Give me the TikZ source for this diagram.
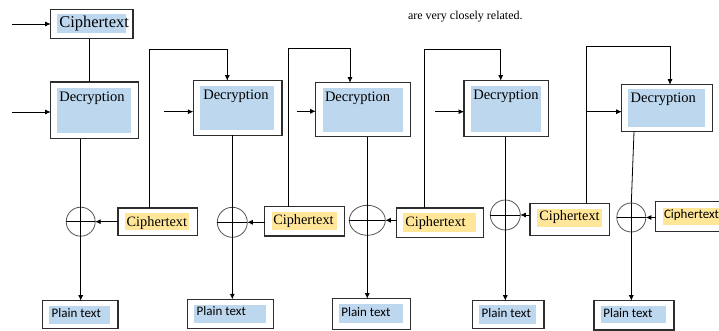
\documentclass[tikz,border=0pt]{standalone}
\usepackage{fontspec}
\setmainfont{Liberation Serif}
\newfontfamily\calib{Carlito}
\usetikzlibrary{arrows.meta,shapes.geometric}
\definecolor{boxblue}{RGB}{189,215,238}
\definecolor{boxyellow}{RGB}{255,230,153}
\definecolor{boxedge}{RGB}{45,45,45}
\definecolor{ringgray}{RGB}{85,85,85}
\tikzset{
  obox/.style={draw=boxedge, line width=1.2pt, fill=white, anchor=north west, inner sep=0pt, outer sep=0pt},
  bfill/.style={fill=boxblue, draw=none, anchor=north west, inner sep=0pt, outer sep=0pt},
  yfill/.style={fill=boxyellow, draw=none, anchor=north west, inner sep=0pt, outer sep=0pt},
  lbl/.style={anchor=base west, inner sep=0pt, outer sep=0pt},
  serifA/.style={font=\fontsize{14.5pt}{16pt}\selectfont},
  serifC/.style={font=\fontsize{14.3pt}{16pt}\selectfont},
  sansP/.style={font=\calib\fontsize{13pt}{15pt}\selectfont},
  ring/.style={circle, draw=ringgray, line width=0.8pt, inner sep=0pt, outer sep=0pt, minimum size=#1},
  conn/.style={draw=black, line width=0.8pt},
  arr/.style={draw=black, line width=0.8pt, -{Latex[length=5.5pt,width=5pt]}},
}
\begin{document}
\begin{tikzpicture}[x=1pt,y=-1pt]
\clip (0,0) rectangle (719,331);
\fill[white] (0,0) rectangle (719,331);

% top note
\node[lbl, font=\fontsize{12pt}{14pt}\selectfont] (note) at (408,19.3) {are very closely related.};

% top ciphertext
\node[obox, minimum width=82.3pt, minimum height=29.4pt] (c0) at (50.7,9.3) {};
\node[bfill, minimum width=69pt, minimum height=19pt] (c0f) at (57,14) {};
\node[lbl, font=\fontsize{16.5pt}{18pt}\selectfont] (c0t) at (59.3,27.3) {Ciphertext};

% decryption boxes
\node[obox, minimum width=88pt, minimum height=56.7pt] (d1) at (50.7,82) {};
\node[bfill, minimum width=74pt, minimum height=45pt] (d1f) at (57,88) {};
\node[lbl, serifA] (d1t) at (59.3,101.7) {Decryption};

\node[obox, minimum width=88.7pt, minimum height=54.6pt] (d2) at (193.3,80.7) {};
\node[bfill, minimum width=74pt, minimum height=44pt] (d2f) at (200,86) {};
\node[lbl, serifA] (d2t) at (203.3,100) {Decryption};

\node[obox, minimum width=95pt, minimum height=54pt] (d3) at (315.7,82.7) {};
\node[bfill, minimum width=80pt, minimum height=43.7pt] (d3f) at (322.7,88) {};
\node[lbl, serifA] (d3t) at (325,101.7) {Decryption};

\node[obox, minimum width=84.3pt, minimum height=56pt] (d4) at (464,80.7) {};
\node[bfill, minimum width=70pt, minimum height=45.7pt] (d4f) at (470.7,86) {};
\node[lbl, serifA] (d4t) at (473.3,99.3) {Decryption};

\node[obox, minimum width=91pt, minimum height=47pt] (d5) at (621.7,84.7) {};
\node[bfill, minimum width=76.7pt, minimum height=37.4pt] (d5f) at (628.3,89.3) {};
\node[lbl, serifA] (d5t) at (630.7,102.7) {Decryption};

% ciphertext boxes (yellow)
\node[obox, minimum width=79.3pt, minimum height=27.3pt] (c1) at (118,208) {};
\node[yfill, minimum width=64pt, minimum height=16.7pt] (c1f) at (125.3,213.3) {};
\node[lbl, serifC] (c1t) at (126.7,226) {Ciphertext};

\node[obox, minimum width=80pt, minimum height=29.3pt] (c2) at (264.7,206.7) {};
\node[yfill, minimum width=65pt, minimum height=18pt] (c2f) at (271.7,212) {};
\node[lbl, serifC] (c2t) at (273.3,224) {Ciphertext};

\node[obox, minimum width=86.6pt, minimum height=29.3pt] (c3) at (396.7,208) {};
\node[yfill, minimum width=72.4pt, minimum height=18.7pt] (c3f) at (403.3,213.3) {};
\node[lbl, serifC] (c3t) at (405.3,226) {Ciphertext};

\node[obox, minimum width=79.3pt, minimum height=32pt] (c4) at (530,203.3) {};
\node[yfill, minimum width=65pt, minimum height=18pt] (c4f) at (536.7,209.3) {};
\node[lbl, serifC] (c4t) at (539.3,220.7) {Ciphertext};

\node[obox, minimum width=70pt, minimum height=30pt] (c5) at (655.5,201.5) {};
\node[yfill, minimum width=60pt, minimum height=17.5pt] (c5f) at (662.7,207.5) {};
\node[lbl, sansP] (c5t) at (664,218.7) {Ciphertext};

% plain text boxes
\node[obox, minimum width=75.3pt, minimum height=28pt] (p1) at (42.7,300.7) {};
\node[bfill, minimum width=60.7pt, minimum height=18pt] (p1f) at (49.3,306) {};
\node[lbl, sansP] (p1t) at (51.7,317.3) {Plain text};

\node[obox, minimum width=86pt, minimum height=29.4pt] (p2) at (187.3,299.3) {};
\node[bfill, minimum width=72pt, minimum height=18.6pt] (p2f) at (194,304.7) {};
\node[lbl, sansP] (p2t) at (196.7,315.7) {Plain text};

\node[obox, minimum width=78pt, minimum height=30.6pt] (p3) at (332.7,298.7) {};
\node[bfill, minimum width=63.4pt, minimum height=19pt] (p3f) at (339.3,304.3) {};
\node[lbl, sansP] (p3t) at (341.3,316) {Plain text};

\node[obox, minimum width=71.3pt, minimum height=28pt] (p4) at (472.7,300.7) {};
\node[bfill, minimum width=56.7pt, minimum height=19.3pt] (p4f) at (479.3,304.7) {};
\node[lbl, sansP] (p4t) at (481.7,317.3) {Plain text};

\node[obox, minimum width=80pt, minimum height=29.3pt] (p5) at (594,300.7) {};
\node[bfill, minimum width=65.3pt, minimum height=17.3pt] (p5f) at (600.7,306) {};
\node[lbl, sansP] (p5t) at (603.3,317.3) {Plain text};

% XOR rings
\node[ring=29pt] (x1) at (80.7,221.7) {};
\node[ring=30pt] (x2) at (232.3,222.3) {};
\node[ellipse, draw=ringgray, line width=0.8pt, inner sep=0pt, outer sep=0pt, minimum width=36pt, minimum height=30pt] (x3) at (367.3,220.3) {};
\node[ring=30pt] (x4) at (505.3,215) {};
\node[ring=29pt] (x5) at (631.3,217.5) {};

\foreach \x in {x1,x2,x3,x4,x5}{
  \draw[conn] (\x.west) -- (\x.east);
  \draw[conn] (\x.north) -- (\x.south);
}

% free ends
\coordinate (i0) at (12,24);
\coordinate (i1) at (12,112);
\coordinate (i2) at (164,111.7);
\coordinate (i3) at (296.7,111.3);
\coordinate (i4) at (435,111.7);

% inputs
\draw[arr] (i0) -- (c0.west |- i0);
\draw[arr] (i1) -- (d1.west |- i1);
\draw[arr] (i2) -- (d2.west |- i2);
\draw[arr] (i3) -- (d3.west |- i3);
\draw[arr] (i4) -- (d4.west |- i4);

% ciphertext to first decryption
\coordinate (k0) at (89,0);
\draw[conn] (c0.south -| k0) -- (d1.north -| k0);

% decryption to xor to plaintext
\draw[conn] (d1.south -| x1) -- (x1.north);
\draw[arr] (x1.south) -- (p1.north -| x1);
\draw[conn] (d2.south -| x2) -- (x2.north);
\draw[arr] (x2.south) -- (p2.north -| x2);
\draw[conn] (d3.south -| x3) -- (x3.north);
\draw[arr] (x3.south) -- (p3.north -| x3);
\draw[conn] (d4.south -| x4) -- (x4.north);
\draw[arr] (x4.south) -- (p4.north -| x4);
\coordinate (k5) at (634,0);
\draw[conn] (d5.south -| k5) -- (x5.north);
\draw[arr] (x5.south) -- (p5.north -| x5);

% ciphertext to xor
\draw[arr] (c1.west |- x1) -- (x1.east);
\draw[arr] (c2.west |- x2) -- (x2.east);
\draw[arr] (c3.west |- x3) -- (x3.east);
\draw[arr] (c4.west |- x4) -- (x4.east);
\draw[arr] (c5.west |- x5) -- (x5.east);

% feedback lines
\coordinate (f1a) at (149.3,49.3); \coordinate (f1b) at (227.3,49.3);
\coordinate (f2a) at (288,48.7);   \coordinate (f2b) at (350,48.7);
\coordinate (f3a) at (424,49.3);   \coordinate (f3b) at (500.7,49.3);
\coordinate (f4a) at (586.3,46);   \coordinate (f4b) at (670,46);
\draw[arr] (c1.north -| f1a) -- (f1a) -- (f1b) -- (d2.north -| f1b);
\draw[arr] (c2.north -| f2a) -- (f2a) -- (f2b) -- (d3.north -| f2b);
\draw[arr] (c3.north -| f3a) -- (f3a) -- (f3b) -- (d4.north -| f3b);
\draw[arr] (c4.north -| f4a) -- (f4a) -- (f4b) -- (d5.north -| f4b);
\coordinate (i5) at (586.3,111.7);
\draw[arr] (i5) -- (d5.west |- i5);
\end{tikzpicture}
\end{document}
